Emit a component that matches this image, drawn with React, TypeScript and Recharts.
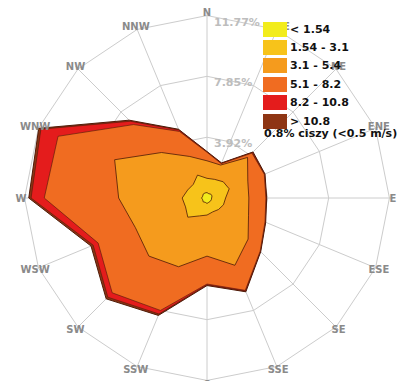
import React from 'react';
import { RadarChart, Radar, PolarGrid, PolarAngleAxis, PolarRadiusAxis } from 'recharts';

const DIRECTIONS = ['N', 'NNE', 'NE', 'ENE', 'E', 'ESE', 'SE', 'SSE', 'S', 'SSW', 'SW', 'WSW', 'W', 'WNW', 'NW', 'NNW'];

// cumulative frequency (%) at the outer edge of each speed class, per direction
const UP_TO_154 = [0.35, 0.3, 0.35, 0.35, 0.3, 0.3, 0.3, 0.3, 0.35, 0.3, 0.35, 0.3, 0.35, 0.3, 0.35, 0.35];
const UP_TO_31 = [1.27, 1.3, 1.48, 1.55, 1.2, 1.15, 1.05, 0.97, 1.1, 1.25, 1.75, 1.5, 1.6, 1.35, 1.25, 1.6];
const UP_TO_54 = [2.4, 2.3, 3.7, 2.85, 2.7, 2.9, 3.75, 4.7, 3.75, 4.8, 5.3, 5.0, 5.7, 6.45, 4.15, 2.9];
const UP_TO_82 = [2.95, 2.4, 4.1, 4.0, 3.8, 4.05, 4.85, 6.45, 5.55, 7.85, 8.65, 7.6, 10.5, 10.4, 6.7, 4.65];
const UP_TO_108 = [2.97, 2.42, 4.15, 4.02, 3.82, 4.07, 4.87, 6.5, 5.6, 8.1, 9.05, 7.95, 11.35, 11.6, 7.0, 4.75];
const TOTAL = [3.0, 2.45, 4.2, 4.05, 3.85, 4.1, 4.9, 6.55, 5.65, 8.2, 9.2, 8.1, 11.5, 11.75, 7.1, 4.8];

const RADIUS_TICKS = [3.92, 7.85, 11.77];
const SPEED_CLASSES = ['< 1.54', '1.54 - 3.1', '3.1 - 5.4', '5.1 - 8.2', '8.2 - 10.8', '> 10.8'];
const CLASS_COLORS = ['#f2ec1c', '#f7c31a', '#f59b1d', '#f06c21', '#e41c1c', '#8e3514'];
const CALM_NOTE = '0.8% ciszy (<0.5 m/s)';

const CX = 207;
const CY = 198;
const R = 186;
const FONT = '"DejaVu Sans", Verdana, sans-serif';

const data = DIRECTIONS.map((dir, i) => ({
  dir,
  c1: UP_TO_154[i],
  c2: UP_TO_31[i],
  c3: UP_TO_54[i],
  c4: UP_TO_82[i],
  c5: UP_TO_108[i],
  c6: TOTAL[i],
}));

const DirTick = (props: any) => {
  const a = (-props.payload.coordinate * Math.PI) / 180;
  const x = CX + R * Math.cos(a);
  const y = CY + R * Math.sin(a);
  return (
    <text x={x} y={y} textAnchor="middle" dominantBaseline="central" fill="#8a8a8a"
      fontSize={10} fontWeight="bold" fontFamily={FONT}>
      {props.payload.value}
    </text>
  );
};

const RadiusTick = (props: any) => (
  <text x={props.x + 7} y={props.y + 10} textAnchor="start" fill="#bdbdbd"
    fontSize={11} fontWeight="bold" fontFamily={FONT}>
    {`${props.payload.value}%`}
  </text>
);

const OUTLINE = '#4e1a08';

export default function App() {
  return (
    <div style={{ position: 'absolute', left: 0, top: 0, width: 401, height: 381, background: '#fff' }}>
      <RadarChart width={401} height={381} data={data} cx={CX} cy={CY} outerRadius={R}
        margin={{ top: 0, right: 0, bottom: 0, left: 0 }}>
        <PolarGrid gridType="polygon" stroke="#cccccc" />
        <PolarAngleAxis dataKey="dir" tick={<DirTick />} tickLine={false} axisLine={false} />
        <PolarRadiusAxis angle={90} domain={[0, 11.77]} ticks={RADIUS_TICKS} tick={<RadiusTick />}
          axisLine={false} tickLine={false} />
        <Radar dataKey="c6" fill={CLASS_COLORS[5]} fillOpacity={1} stroke={OUTLINE} strokeWidth={1} isAnimationActive={false} />
        <Radar dataKey="c5" fill={CLASS_COLORS[4]} fillOpacity={1} stroke={OUTLINE} strokeWidth={0.6} isAnimationActive={false} />
        <Radar dataKey="c4" fill={CLASS_COLORS[3]} fillOpacity={1} stroke={OUTLINE} strokeWidth={0.6} isAnimationActive={false} />
        <Radar dataKey="c3" fill={CLASS_COLORS[2]} fillOpacity={1} stroke={OUTLINE} strokeWidth={0.8} isAnimationActive={false} />
        <Radar dataKey="c2" fill={CLASS_COLORS[1]} fillOpacity={1} stroke={OUTLINE} strokeWidth={0.8} isAnimationActive={false} />
        <Radar dataKey="c1" fill={CLASS_COLORS[0]} fillOpacity={1} stroke={OUTLINE} strokeWidth={0.8} isAnimationActive={false} />
      </RadarChart>

      {/* legend */}
      <div style={{ position: 'absolute', left: 263, top: 20, fontFamily: FONT, fontWeight: 'bold', fontSize: 11, color: '#111' }}>
        {SPEED_CLASSES.map((label, i) => (
          <div key={label} style={{ display: 'flex', alignItems: 'center', height: 18.4 }}>
            <div style={{ width: 24, height: 15, background: CLASS_COLORS[i], marginRight: 3 }} />
            <span>{label}</span>
          </div>
        ))}
      </div>
      <div style={{ position: 'absolute', left: 264, top: 127, fontFamily: FONT, fontWeight: 'bold', fontSize: 11, color: '#111', whiteSpace: 'nowrap' }}>
        {CALM_NOTE}
      </div>
    </div>
  );
}
